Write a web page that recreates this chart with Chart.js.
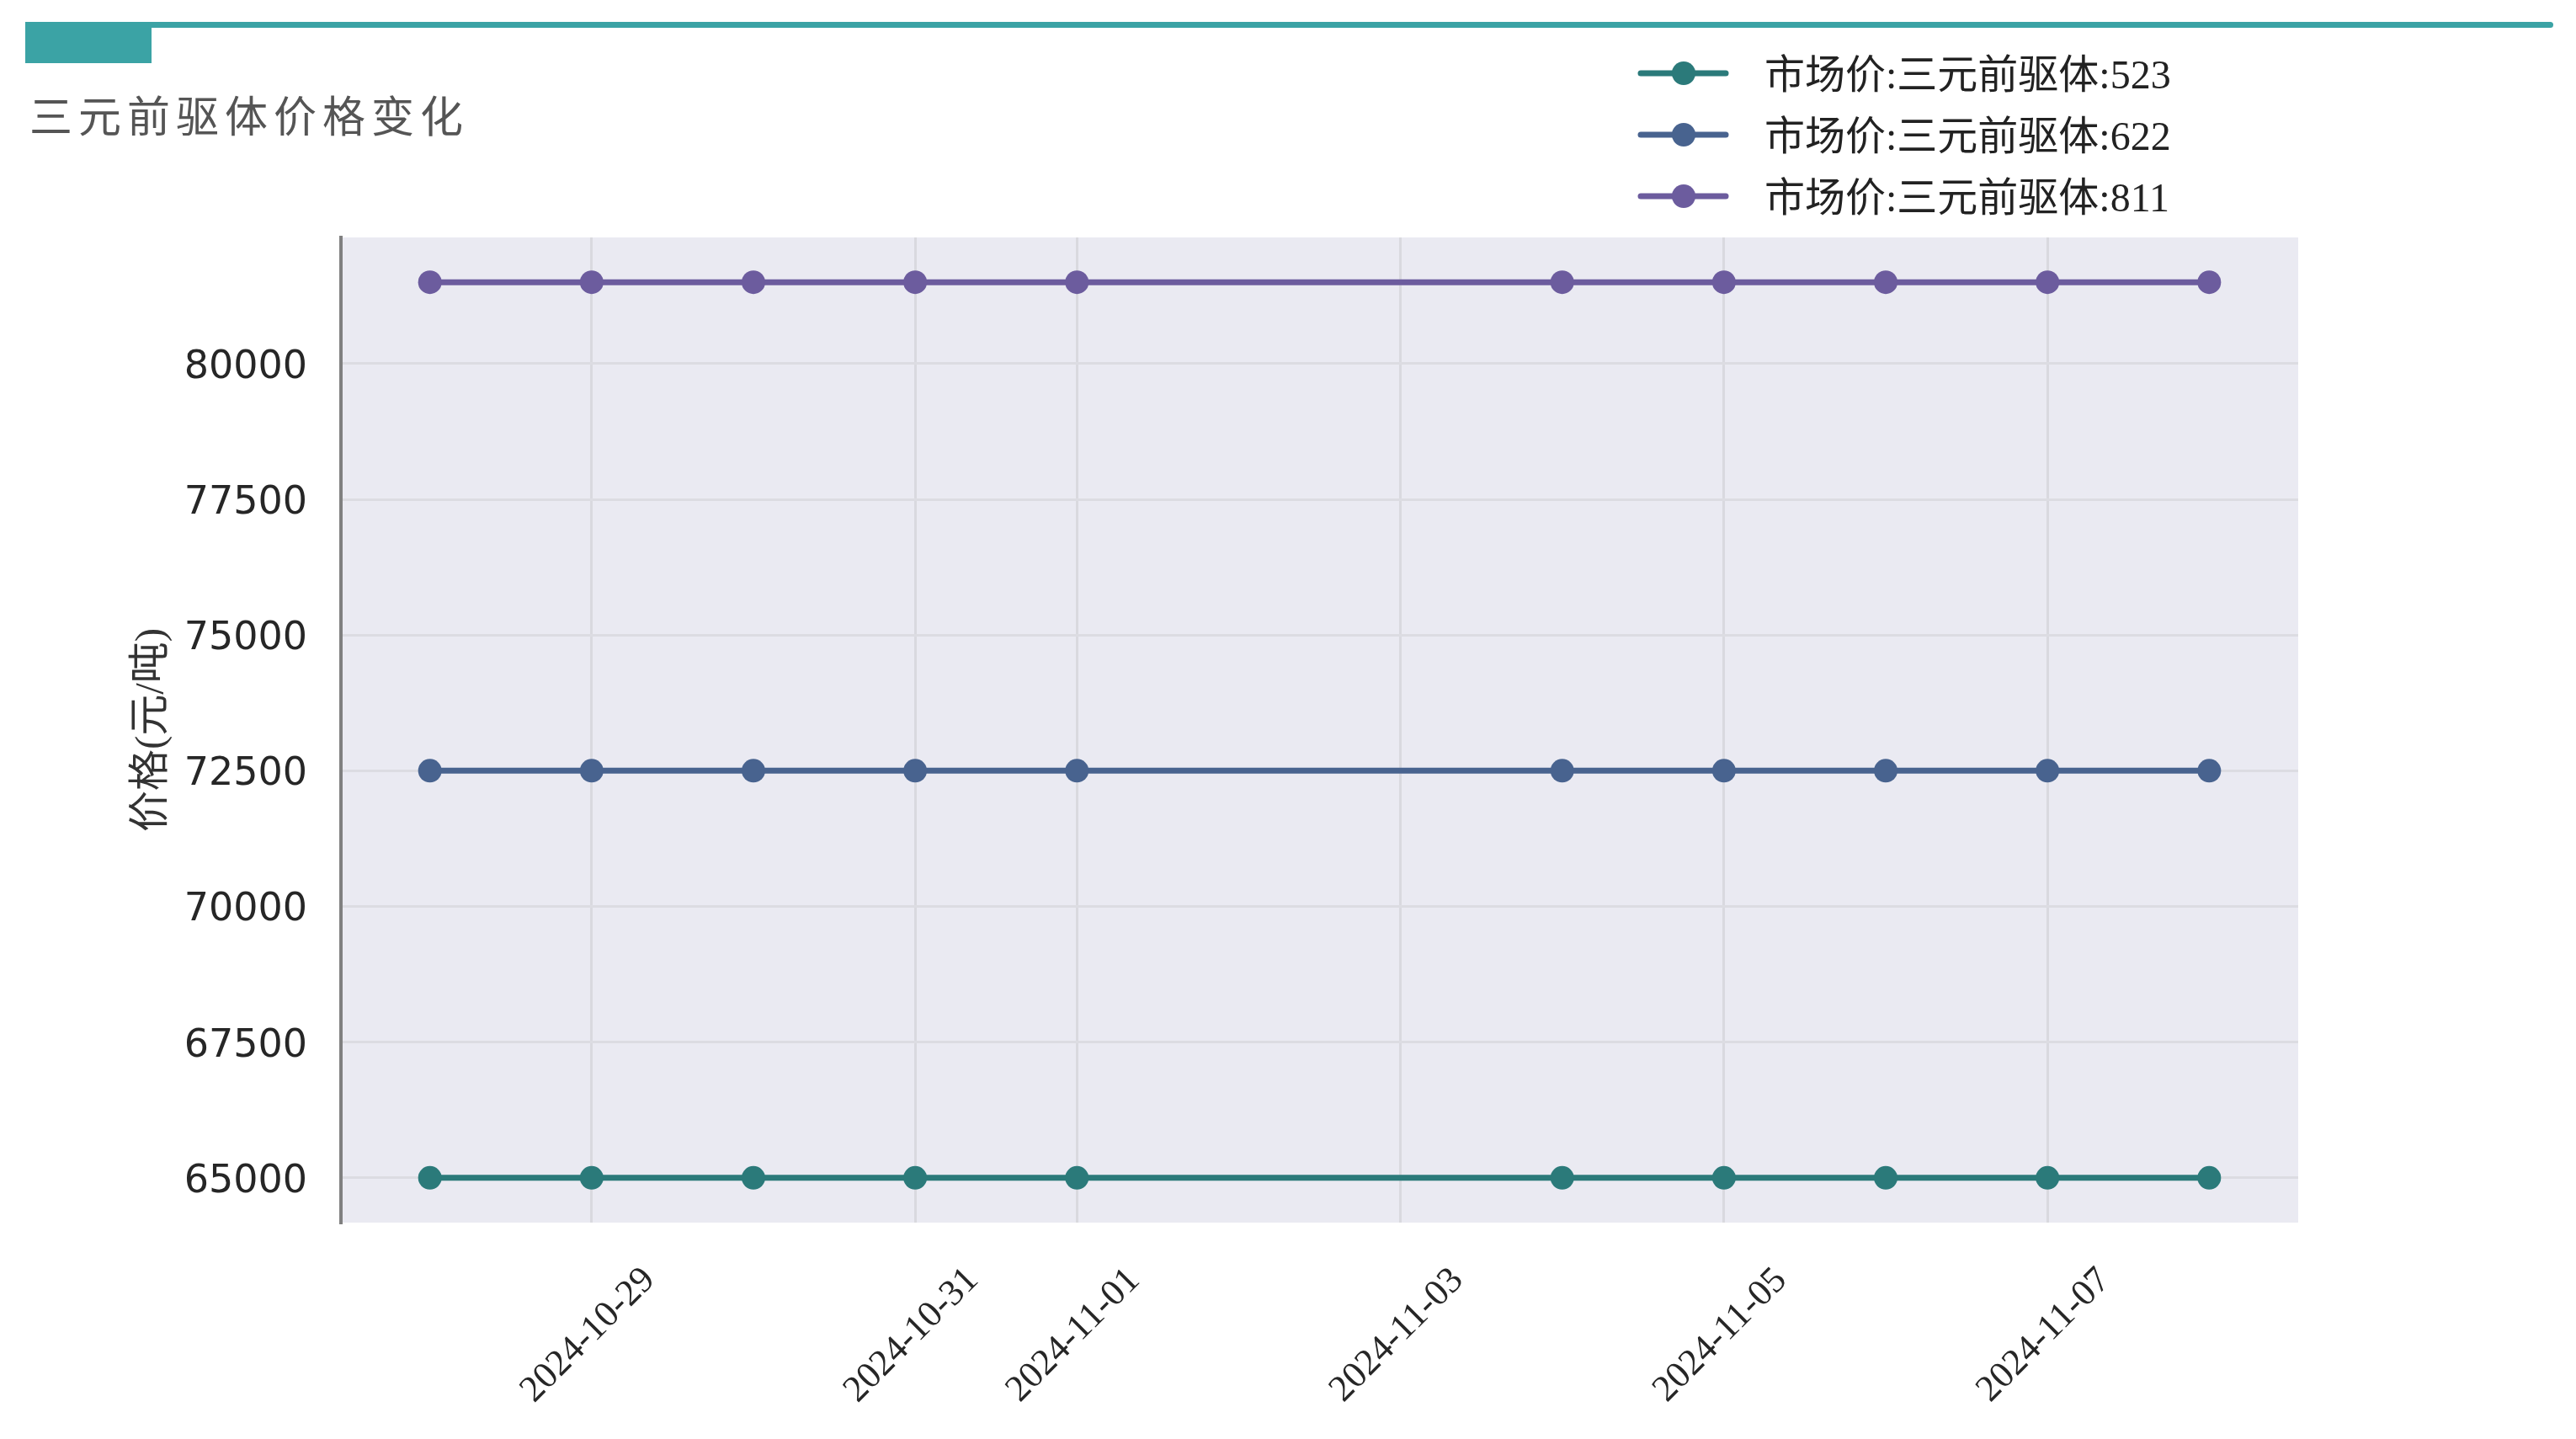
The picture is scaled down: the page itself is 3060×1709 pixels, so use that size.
<!DOCTYPE html>
<html>
<head>
<meta charset="utf-8">
<script src="https://cdn.jsdelivr.net/npm/chart.js@4"></script>
<style>
  html, body { margin: 0; padding: 0; background: #fff; }
  #wrap { position: relative; width: 3060px; height: 1709px; overflow: hidden; }
  #topbar { position: absolute; left: 30px; top: 26px; width: 3003px; height: 7px; background: #3ba3a5; border-radius: 4px; }
  #tab { position: absolute; left: 30px; top: 26px; width: 150px; height: 49px; background: #3ba3a5; }
  #title { position: absolute; left: 35px; top: 98px; font-family: "Noto Sans CJK SC", sans-serif; font-size: 51px; color: #555; letter-spacing: 7px; }
  canvas { position: absolute; left: 0; top: 0; }
</style>
</head>
<body>
<div id="wrap">
  <canvas id="chart" width="3060" height="1709"></canvas>
  <div id="topbar"></div>
  <div id="tab"></div>
  <div id="title">三元前驱体价格变化</div>
</div>
<script>
// chart data
const dates = ['2024-10-28', '2024-10-29', '2024-10-30', '2024-10-31', '2024-11-01',
               '2024-11-04', '2024-11-05', '2024-11-06', '2024-11-07', '2024-11-08'];
const price523 = [65000, 65000, 65000, 65000, 65000, 65000, 65000, 65000, 65000, 65000];
const price622 = [72500, 72500, 72500, 72500, 72500, 72500, 72500, 72500, 72500, 72500];
const price811 = [81500, 81500, 81500, 81500, 81500, 81500, 81500, 81500, 81500, 81500];
const seriesNames = ['市场价:三元前驱体:523', '市场价:三元前驱体:622', '市场价:三元前驱体:811'];
const seriesColors = ['#2b7a7a', '#48638f', '#6c5c9e'];
const xTickDates = ['2024-10-29', '2024-10-31', '2024-11-01', '2024-11-03', '2024-11-05', '2024-11-07'];
const yTickValues = [65000, 67500, 70000, 72500, 75000, 77500, 80000];
const yLabel = '价格(元/吨)';

// day number for a date string
function dayOf(s) {
    return Math.round(Date.parse(s + 'T00:00:00Z') / 86400000);
}

const xs = dates.map(dayOf);
const xMin = xs[0] - 0.55;
const xMax = xs[xs.length - 1] + 0.55;

function makeSet(i, values) {
    return {
        label: seriesNames[i],
        data: values.map((v, k) => ({ x: xs[k], y: v })),
        borderColor: seriesColors[i],
        backgroundColor: seriesColors[i],
        borderWidth: 7,
        pointRadius: 14,
        pointHoverRadius: 14,
        pointBorderWidth: 0,
        tension: 0
    };
}

/**
 * Background, custom x labels, y title and legend
 */
const decorPlugin = {
    id: 'decor',
    beforeDraw(chart) {
        const { ctx, chartArea: a } = chart;
        ctx.save();
        ctx.fillStyle = '#eaeaf2';
        ctx.fillRect(a.left, a.top, a.right - a.left, a.bottom - a.top);
        ctx.restore();
    },
    afterDraw(chart) {
        const { ctx, chartArea: a } = chart;
        const xScale = chart.scales.x;

        // rotated date labels, centred on their tick
        ctx.save();
        ctx.font = '44px "Liberation Serif", serif';
        ctx.fillStyle = '#262626';
        ctx.textAlign = 'center';
        ctx.textBaseline = 'middle';
        xTickDates.forEach(d => {
            const px = xScale.getPixelForValue(dayOf(d));
            ctx.save();
            ctx.translate(px - 4, a.bottom + 134);
            ctx.rotate(-Math.PI / 4);
            ctx.fillText(d, 0, 0);
            ctx.restore();
        });
        ctx.restore();

        // y axis title
        ctx.save();
        ctx.font = '49px "Liberation Serif", "Noto Sans CJK SC", serif';
        ctx.fillStyle = '#333';
        ctx.textAlign = 'center';
        ctx.textBaseline = 'middle';
        ctx.translate(181, (a.top + a.bottom) / 2);
        ctx.rotate(-Math.PI / 2);
        ctx.fillText(yLabel, 0, 0);
        ctx.restore();

        // legend
        ctx.save();
        ctx.font = '48px "Liberation Serif", "Noto Sans CJK SC", serif';
        ctx.textAlign = 'left';
        ctx.textBaseline = 'middle';
        chart.data.datasets.forEach((ds, i) => {
            const y = 87 + i * 73;
            ctx.strokeStyle = ds.borderColor;
            ctx.lineWidth = 7;
            ctx.lineCap = 'round';
            ctx.beginPath();
            ctx.moveTo(1949, y);
            ctx.lineTo(2050, y);
            ctx.stroke();
            ctx.fillStyle = ds.borderColor;
            ctx.beginPath();
            ctx.arc(2000, y, 14, 0, Math.PI * 2);
            ctx.fill();
            ctx.fillStyle = '#222';
            ctx.fillText(ds.label, 2096, y + 5);
        });
        ctx.restore();
    }
};

const chart = new Chart(document.getElementById('chart').getContext('2d'), {
    type: 'line',
    data: {
        datasets: [makeSet(0, price523), makeSet(1, price622), makeSet(2, price811)]
    },
    options: {
        responsive: false,
        devicePixelRatio: 1,
        animation: false,
        layout: { padding: { top: 282, right: 330, bottom: 257, left: 0 } },
        plugins: {
            legend: { display: false },
            tooltip: { enabled: false }
        },
        scales: {
            x: {
                type: 'linear',
                min: xMin,
                max: xMax,
                afterBuildTicks(scale) {
                    scale.ticks = xTickDates.map(d => ({ value: dayOf(d) }));
                },
                afterFit(scale) { scale.height = 0; },
                ticks: { display: false },
                grid: { color: '#d9d9df', lineWidth: 3, drawTicks: false },
                border: { display: false }
            },
            y: {
                min: 64175,
                max: 82325,
                afterBuildTicks(scale) {
                    scale.ticks = yTickValues.map(v => ({ value: v }));
                },
                afterFit(scale) { scale.width = 405; },
                ticks: {
                    padding: 40,
                    labelOffset: 5,
                    color: '#262626',
                    font: { family: '"DejaVu Sans", sans-serif', size: 46 },
                    callback: v => String(v)
                },
                grid: { color: '#dcdce2', lineWidth: 3, drawTicks: false },
                border: { display: true, color: '#808080', width: 4 }
            }
        }
    },
    plugins: [decorPlugin]
});
</script>
</body>
</html>
